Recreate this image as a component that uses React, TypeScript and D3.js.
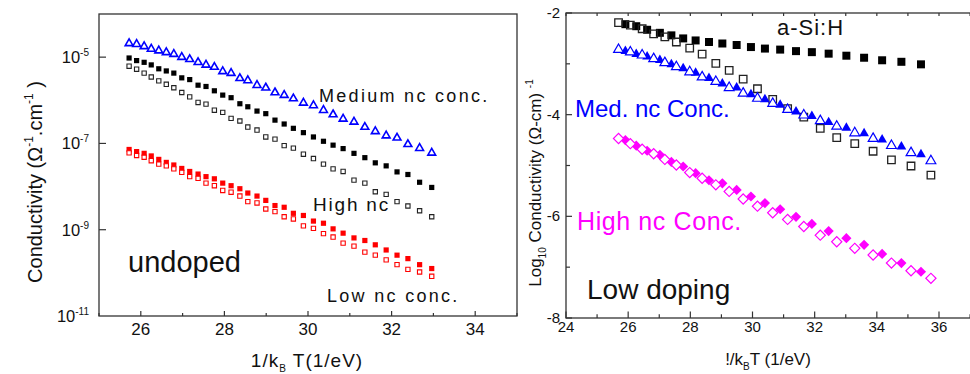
import React from "react";
import * as d3 from "d3";

// ---------- Left panel data (undoped) ----------
const leftX = [25.72, 25.9, 26.08, 26.25, 26.43, 26.61, 26.79, 26.98, 27.17, 27.37, 27.56, 27.76, 27.96, 28.16, 28.37, 28.56, 28.78, 28.99, 29.21, 29.43, 29.65, 29.89, 30.13, 30.37, 30.6, 30.84, 31.1, 31.36, 31.61, 31.87, 32.13, 32.39, 32.67, 32.96];
// log10 conductivity values
const medTri = [-4.68, -4.7, -4.75, -4.81, -4.85, -4.89, -4.93, -5.0, -5.05, -5.12, -5.18, -5.23, -5.33, -5.37, -5.49, -5.54, -5.65, -5.71, -5.82, -5.88, -5.96, -6.06, -6.12, -6.23, -6.33, -6.43, -6.5, -6.62, -6.72, -6.82, -6.87, -7.02, -7.11, -7.22];
const highFilled = [-5.02, -5.08, -5.12, -5.18, -5.27, -5.32, -5.37, -5.48, -5.52, -5.65, -5.68, -5.78, -5.88, -5.94, -6.08, -6.15, -6.25, -6.31, -6.46, -6.55, -6.65, -6.75, -6.85, -6.95, -7.04, -7.12, -7.23, -7.33, -7.45, -7.52, -7.66, -7.72, -7.9, -8.02];
const highOpen = [-5.21, -5.28, -5.37, -5.46, -5.55, -5.63, -5.71, -5.82, -5.92, -6.05, -6.09, -6.23, -6.28, -6.42, -6.48, -6.62, -6.69, -6.85, -6.9, -7.05, -7.11, -7.25, -7.35, -7.48, -7.59, -7.65, -7.85, -7.92, -8.12, -8.18, -8.35, -8.45, -8.56, -8.7];
const lowFilled = [-7.14, -7.19, -7.23, -7.29, -7.37, -7.44, -7.5, -7.58, -7.65, -7.71, -7.77, -7.82, -7.92, -7.98, -8.05, -8.15, -8.22, -8.32, -8.44, -8.48, -8.62, -8.67, -8.8, -8.85, -8.98, -9.08, -9.19, -9.25, -9.35, -9.47, -9.59, -9.67, -9.81, -9.9];
const lowOpen = [-7.22, -7.28, -7.32, -7.4, -7.48, -7.52, -7.59, -7.67, -7.77, -7.81, -7.92, -7.98, -8.09, -8.13, -8.22, -8.35, -8.38, -8.52, -8.58, -8.7, -8.75, -8.91, -8.97, -9.09, -9.17, -9.31, -9.38, -9.52, -9.59, -9.7, -9.81, -9.92, -9.98, -10.08];
const leftXMajor = [26, 28, 30, 32, 34];
const leftXMinor = [25, 27, 29, 31, 33, 35];
const leftYTicks = [-5, -7, -9, -11];

// ---------- Right panel data (low doping) ----------
const rightXOpen = [25.69, 26.07, 26.45, 26.82, 27.18, 27.55, 27.98, 28.38, 28.82, 29.25, 29.7, 30.16, 30.65, 31.13, 31.65, 32.18, 32.71, 33.29, 33.88, 34.47, 35.1, 35.74];
const rightXFilled = [25.91, 26.26, 26.61, 27.02, 27.39, 27.77, 28.17, 28.6, 29.03, 29.49, 29.95, 30.4, 30.89, 31.4, 31.91, 32.45, 33.02, 33.59, 34.17, 34.79, 35.42];
const aSiFilled = [-2.22, -2.26, -2.33, -2.39, -2.44, -2.5, -2.54, -2.57, -2.6, -2.63, -2.67, -2.7, -2.72, -2.75, -2.77, -2.8, -2.84, -2.88, -2.93, -2.96, -3.01];
const aSiOpen = [-2.19, -2.24, -2.31, -2.41, -2.47, -2.57, -2.69, -2.81, -2.99, -3.13, -3.3, -3.49, -3.7, -3.88, -4.05, -4.27, -4.45, -4.57, -4.72, -4.89, -5.01, -5.19];
const medFilledR = [-2.75, -2.81, -2.86, -2.93, -3.01, -3.09, -3.18, -3.28, -3.39, -3.47, -3.6, -3.7, -3.81, -3.94, -4.03, -4.15, -4.26, -4.37, -4.49, -4.63, -4.78];
const medOpenR = [-2.72, -2.77, -2.83, -2.9, -2.98, -3.06, -3.16, -3.26, -3.35, -3.47, -3.58, -3.68, -3.78, -3.9, -4.01, -4.12, -4.23, -4.36, -4.47, -4.61, -4.75, -4.91];
const highFilledR = [-4.5, -4.61, -4.71, -4.79, -4.93, -5.02, -5.15, -5.29, -5.35, -5.48, -5.61, -5.74, -5.86, -6.01, -6.15, -6.29, -6.43, -6.56, -6.74, -6.92, -7.09];
const highOpenR = [-4.47, -4.57, -4.68, -4.77, -4.88, -4.99, -5.14, -5.25, -5.38, -5.51, -5.66, -5.8, -5.93, -6.06, -6.2, -6.37, -6.5, -6.63, -6.76, -6.92, -7.07, -7.22];
const rightXMajor = [24, 26, 28, 30, 32, 34, 36];
const rightXMinor = [25, 27, 29, 31, 33, 35, 37];
const rightYMajor = [-2, -4, -6, -8];
const rightYMinor = [-3, -5, -7];

const FONT = "'Liberation Sans', Arial, Helvetica, sans-serif";

export default function App() {
  // Left scales
  const xL = d3.scaleLinear().domain([25, 35]).range([99, 517]);
  const yL = d3.scaleLog().domain([1e-11, 1e-4]).range([316, 14]);
  // Right scales
  const xR = d3.scaleLinear().domain([24, 36]).range([566, 939]);
  const yR = d3.scaleLinear().domain([-8, -2]).range([318, 13]);

  const sq = (s: number) => d3.symbol().type(d3.symbolSquare).size(s * s)() as string;
  const tri = (w: number) => d3.symbol().type(d3.symbolTriangle).size((Math.sqrt(3) / 4) * w * w)() as string;

  const sqL = sq(5.2);
  const sqLo = sq(4.3);
  const triL = tri(7.8);
  const sqR = sq(8);
  const sqRo = sq(7.5);
  const triR = tri(9.8);
  const diaR = sq(7.2);

  const axisColor = "#333";

  return (
    <svg width={970} height={374} style={{ position: "absolute", left: 0, top: 0, background: "#fff" }} fontFamily={FONT}>
      <rect x={0} y={0} width={970} height={374} fill="#fff" />
      {/* ---------------- LEFT PANEL ---------------- */}
      <g>
        <rect x={99} y={14} width={418} height={302} fill="none" stroke={axisColor} strokeWidth={1.3} />
        {leftXMajor.map((t) => (
          <g key={"lxm" + t}>
            <line x1={xL(t)} x2={xL(t)} y1={316} y2={311} stroke={axisColor} strokeWidth={1.2} />
            <text x={xL(t)} y={335} fontSize={17} textAnchor="middle" fill="#111">{t}</text>
          </g>
        ))}
        {leftXMinor.map((t) => (
          <line key={"lxn" + t} x1={xL(t)} x2={xL(t)} y1={316} y2={313} stroke={axisColor} strokeWidth={1.2} />
        ))}
        {leftYTicks.map((t) => (
          <g key={"ly" + t}>
            {t !== -11 && <line x1={99} x2={106} y1={yL(Math.pow(10, t))} y2={yL(Math.pow(10, t))} stroke={axisColor} strokeWidth={1.2} />}
            <text x={89} y={yL(Math.pow(10, t)) + 6} fontSize={16.5} textAnchor="end" fill="#111">
              10<tspan fontSize={10} dy={-7}>{String(t)}</tspan>
            </text>
          </g>
        ))}
        {/* series */}
        {leftX.map((x, i) => (
          <path key={"lr1" + i} d={sqL} transform={`translate(${xL(x)},${yL(Math.pow(10, lowFilled[i]))})`} fill="#ff0000" />
        ))}
        {leftX.map((x, i) => (
          <path key={"lr2" + i} d={sqLo} transform={`translate(${xL(x)},${yL(Math.pow(10, lowOpen[i]))})`} fill="#fff" stroke="#ff0000" strokeWidth={1.1} />
        ))}
        {leftX.map((x, i) => (
          <path key={"lb2" + i} d={sqLo} transform={`translate(${xL(x)},${yL(Math.pow(10, highOpen[i]))})`} fill="none" stroke="#222" strokeWidth={1.1} />
        ))}
        {leftX.map((x, i) => (
          <path key={"lb1" + i} d={sqL} transform={`translate(${xL(x)},${yL(Math.pow(10, highFilled[i]))})`} fill="#000" />
        ))}
        {leftX.map((x, i) => (
          <path key={"lt" + i} d={triL} transform={`translate(${xL(x)},${yL(Math.pow(10, medTri[i]))})`} fill="none" stroke="#0000ff" strokeWidth={1.6} />
        ))}
        {/* annotations */}
        <text x={319} y={102} fontSize={18} letterSpacing={2.3} fill="#111">Medium nc conc.</text>
        <text x={313} y={211} fontSize={19} letterSpacing={1.8} fill="#111">High nc</text>
        <text x={128} y={272} fontSize={29} fill="#111">undoped</text>
        <text x={327} y={302} fontSize={18} letterSpacing={2.3} fill="#111">Low nc conc.</text>
        {/* axis labels */}
        <text x={307} y={367} fontSize={19} letterSpacing={1} textAnchor="middle" fill="#111">
          1/k<tspan fontSize={10} dy={5}>B</tspan><tspan dy={-5}> T(1/eV)</tspan>
        </text>
        <text transform="translate(42,182) rotate(-90)" fontSize={20} textAnchor="middle" fill="#111">
          Conductivity (Ω<tspan fontSize={12} dy={-9}>-1</tspan><tspan dy={9}>.cm</tspan><tspan fontSize={12} dy={-9}>-1</tspan><tspan dy={9}> )</tspan>
        </text>
      </g>

      {/* ---------------- RIGHT PANEL ---------------- */}
      <g>
        <rect x={566} y={13} width={xR(37) - 566 + 2} height={305} fill="none" stroke={axisColor} strokeWidth={1.3} />
        {rightXMajor.map((t) => (
          <g key={"rxm" + t}>
            <line x1={xR(t)} x2={xR(t)} y1={318} y2={311.5} stroke={axisColor} strokeWidth={1.2} />
            <line x1={xR(t)} x2={xR(t)} y1={13} y2={16} stroke={axisColor} strokeWidth={1.2} />
            <text x={xR(t)} y={332} fontSize={15} textAnchor="middle" fill="#111">{t}</text>
          </g>
        ))}
        {rightXMinor.map((t) => (
          <g key={"rxn" + t}>
            <line x1={xR(t)} x2={xR(t)} y1={318} y2={314.3} stroke={axisColor} strokeWidth={1.2} />
            <line x1={xR(t)} x2={xR(t)} y1={13} y2={16} stroke={axisColor} strokeWidth={1.2} />
          </g>
        ))}
        {rightYMajor.map((t) => (
          <g key={"rym" + t}>
            <line x1={566} x2={572} y1={yR(t)} y2={yR(t)} stroke={axisColor} strokeWidth={1.2} />
            <text x={560} y={yR(t) + 5} fontSize={15} textAnchor="end" fill="#111">{t}</text>
          </g>
        ))}
        {rightYMinor.map((t) => (
          <line key={"ryn" + t} x1={566} x2={570} y1={yR(t)} y2={yR(t)} stroke={axisColor} strokeWidth={1.2} />
        ))}
        {/* series */}
        {rightXFilled.map((x, i) => (
          <path key={"ra1" + i} d={sqR} transform={`translate(${xR(x)},${yR(aSiFilled[i])})`} fill="#000" />
        ))}
        {rightXOpen.map((x, i) => (
          <path key={"ra2" + i} d={sqRo} transform={`translate(${xR(x)},${yR(aSiOpen[i])})`} fill="none" stroke="#222" strokeWidth={1.3} />
        ))}
        {rightXFilled.map((x, i) => (
          <path key={"rb1" + i} d={triR} transform={`translate(${xR(x)},${yR(medFilledR[i])})`} fill="#0000ff" />
        ))}
        {rightXOpen.map((x, i) => (
          <path key={"rb2" + i} d={triR} transform={`translate(${xR(x)},${yR(medOpenR[i])})`} fill="#fff" stroke="#0000ff" strokeWidth={1.2} />
        ))}
        {rightXFilled.map((x, i) => (
          <path key={"rm1" + i} d={diaR} transform={`translate(${xR(x)},${yR(highFilledR[i])}) rotate(45)`} fill="#ff00ff" />
        ))}
        {rightXOpen.map((x, i) => (
          <path key={"rm2" + i} d={diaR} transform={`translate(${xR(x)},${yR(highOpenR[i])}) rotate(45)`} fill="#fff" stroke="#ff00ff" strokeWidth={1.2} />
        ))}
        {/* annotations */}
        <text x={777} y={35} fontSize={22} letterSpacing={1} fill="#111">a-Si:H</text>
        <text x={575} y={117} fontSize={24} fill="#0000ff">Med. nc Conc.</text>
        <text x={577} y={230} fontSize={25} letterSpacing={0.6} fill="#ff00ff">High nc Conc.</text>
        <text x={587} y={299} fontSize={28} fill="#111">Low doping</text>
        {/* axis labels */}
        <text x={768} y={365} fontSize={17} textAnchor="middle" fill="#111">
          !/k<tspan fontSize={10} dy={5}>B</tspan><tspan dy={-5}>T (1/eV)</tspan>
        </text>
        <text transform="translate(541,183) rotate(-90)" fontSize={17} textAnchor="middle" fill="#111">
          Log<tspan fontSize={10} dy={5}>10</tspan><tspan dy={-5}> Conductivity (Ω-cm) </tspan><tspan fontSize={10} dy={-8}>-1</tspan>
        </text>
      </g>
    </svg>
  );
}
